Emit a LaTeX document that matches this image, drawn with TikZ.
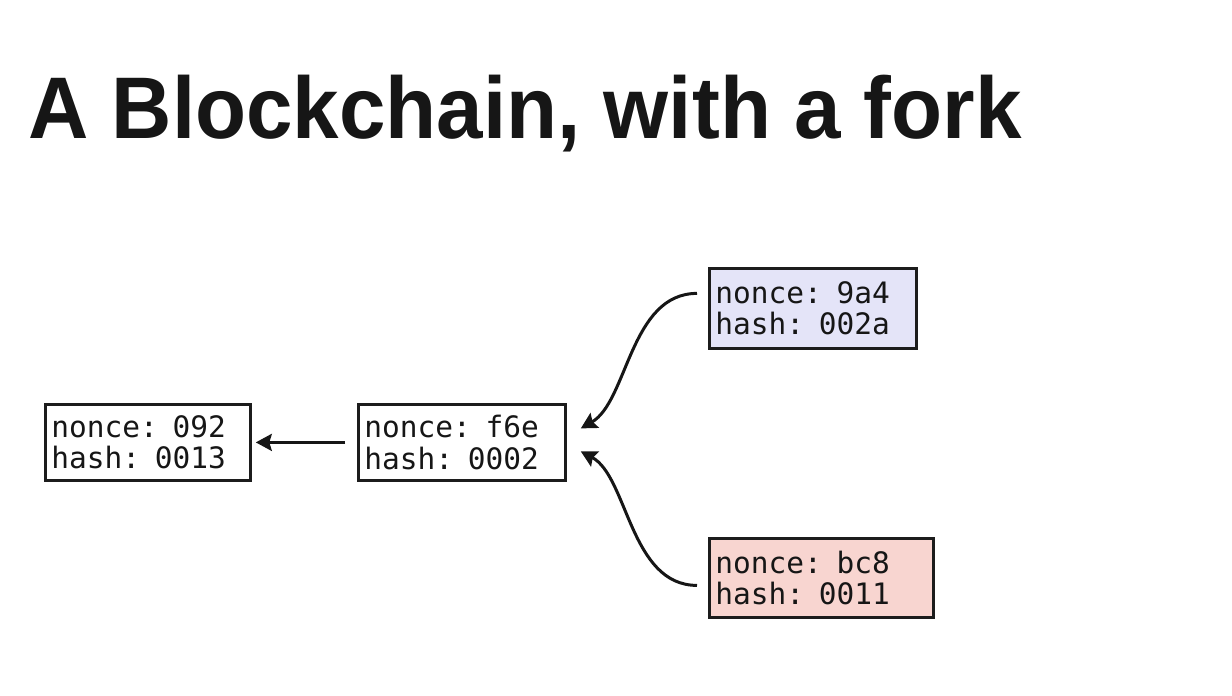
\documentclass[tikz,border=0pt]{standalone}
\usepackage{fontspec}
\setmainfont{Liberation Sans}
\newfontfamily\blockfont{DejaVu Sans Mono}
\usetikzlibrary{arrows.meta}

\definecolor{ink}{HTML}{161616}
\definecolor{edge}{HTML}{1C1C1C}
\definecolor{forkblue}{HTML}{E4E4F8}
\definecolor{forkred}{HTML}{F8D5D0}

\tikzset{
  block/.style={draw=edge, line width=2.8pt, rectangle, anchor=north west,
    inner xsep=6pt, inner ysep=0pt, align=left, text=ink,
    font=\blockfont\fontsize{29.5}{31.5}\selectfont},
  link/.style={draw=ink, line width=3pt,
    -{Stealth[length=16pt,width=17pt,inset=2.5pt]}},
  heading/.style={anchor=base west, text=ink, inner sep=0pt,
    font=\bfseries\fontsize{87.5}{90}\selectfont}
}

\begin{document}
\begin{tikzpicture}[x=1pt,y=-1pt]
  \useasboundingbox (0,0) rectangle (1232,696);

  % title
  \node[heading] (title) at (28,138) {\scalebox{0.955}[1]{A Blockchain, with a fork}};

  % blocks of the chain
  \node[block, minimum width=205pt, minimum height=76pt, text width=193pt]
    (b0) at (44,403) {nonce: 092\\hash: 0013};
  \node[block, minimum width=207pt, minimum height=76pt, text width=195pt]
    (b1) at (357,403) {nonce: f6e\\hash: 0002};
  \node[block, fill=forkblue, minimum width=207pt, minimum height=80pt, text width=195pt]
    (b2) at (708,267) {nonce: 9a4\\hash: 002a};
  \node[block, fill=forkred, minimum width=224pt, minimum height=79pt, text width=212pt]
    (b3) at (708,537) {nonce: bc8\\hash: 0011};

  % each block points back to its parent
  \draw[link, shorten <=12pt, shorten >=4pt] (b1.west) -- (b0.east |- b1.west);
  \draw[link] ([xshift=-11pt,yshift=15pt]b2.west)
    .. controls +(-67,0) and +(47,-27) .. ([xshift=14pt,yshift=14pt]b1.east);
  \draw[link] ([xshift=-11pt,yshift=-7.5pt]b3.west)
    .. controls +(-67,0) and +(47,25) .. ([xshift=14pt,yshift=-9pt]b1.east);
\end{tikzpicture}
\end{document}
